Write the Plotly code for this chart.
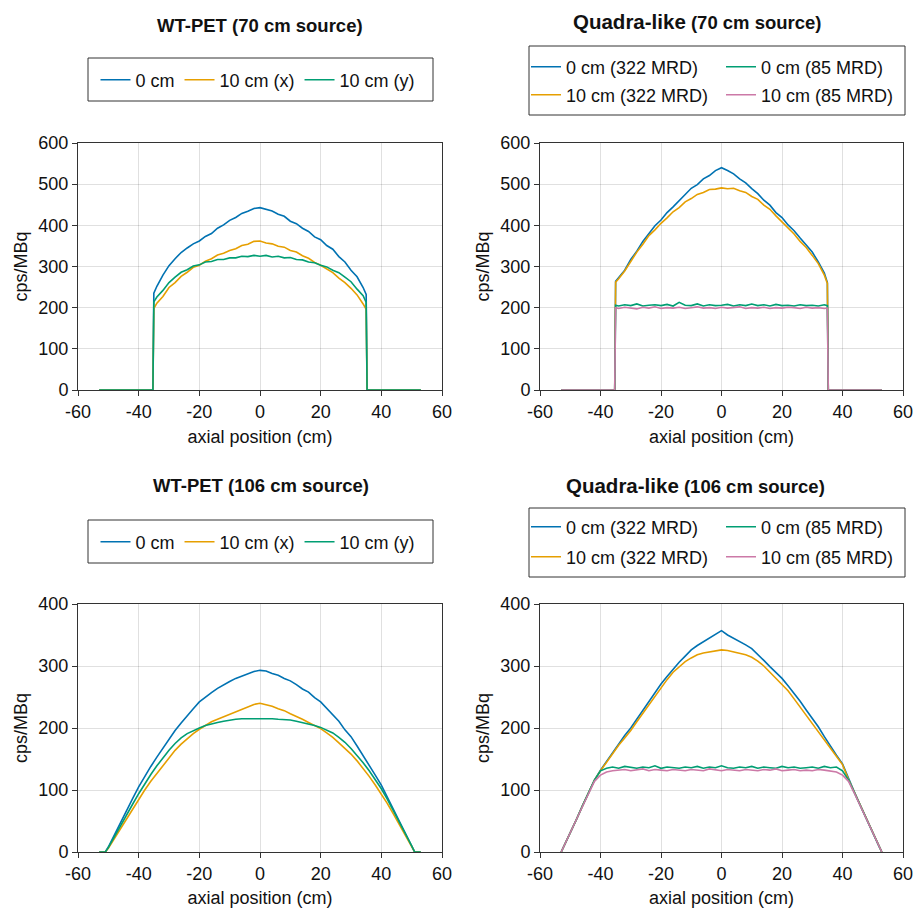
import plotly.graph_objects as go

# ---------------- data ----------------
X_TICKS = [-60, -40, -20, 0, 20, 40, 60]
X_TICKTEXT = ["-60", "-40", "-20", "0", "20", "40", "60"]
Y_TICKS_TOP = [0, 100, 200, 300, 400, 500, 600]
Y_TICKS_BOT = [0, 100, 200, 300, 400]

# axial positions (cm) for 70 cm source panels
x_70 = [-53, -35.3, -35, -34, -32, -30, -28, -26, -24, -22, -20, -18, -16, -14, -12, -10,
        -8, -6, -4, -2, 0, 2, 4, 6, 8, 10, 12, 14, 16, 18, 20, 22, 24, 26, 28, 30, 32, 34,
        35, 35.3, 53]

wt70_0cm = [0, 0, 235, 252, 279, 302, 319, 334, 345, 355, 362, 373, 380, 393, 401, 412, 419, 429,
            434, 441, 443, 439, 435, 427, 422, 410, 404, 393, 385, 372, 365, 351, 342, 324, 311,
            291, 275, 249, 232, 0, 0]
wt70_10x = [0, 0, 198, 211, 227, 249, 261, 276, 286, 298, 303, 313, 319, 328, 332, 339, 343, 351,
            354, 361, 362, 357, 355, 349, 347, 339, 335, 326, 320, 310, 303, 293, 285, 272, 261,
            247, 231, 209, 196, 0, 0]
wt70_10y = [0, 0, 214, 226, 242, 261, 274, 286, 292, 301, 304, 311, 312, 317, 317, 321, 321, 325,
            324, 327, 325, 327, 323, 325, 321, 322, 317, 316, 311, 309, 303, 299, 291, 285, 274,
            263, 245, 229, 213, 0, 0]

q70_0cm_322 = [0, 0, 264, 273, 291, 317, 337, 361, 379, 399, 413, 431, 445, 461, 475, 490, 499, 513,
               521, 533, 540, 533, 525, 513, 503, 489, 477, 461, 449, 431, 419, 401, 387, 369, 352,
               335, 311, 284, 261, 0, 0]
q70_10cm_322 = [0, 0, 262, 270, 289, 313, 335, 354, 375, 389, 405, 418, 433, 443, 457, 465, 475, 480,
                487, 488, 491, 489, 490, 484, 480, 470, 463, 449, 439, 423, 409, 393, 379, 361, 346,
                327, 307, 279, 259, 0, 0]
q70_0cm_85 = [0, 0, 206, 204, 207, 205, 209, 204, 206, 207, 205, 208, 204, 213, 206, 205, 209, 204,
              207, 205, 206, 208, 204, 207, 205, 209, 205, 207, 204, 208, 205, 206, 204, 207, 205,
              206, 204, 207, 205, 0, 0]
q70_10cm_85 = [0, 0, 200, 198, 201, 199, 197, 201, 199, 202, 198, 200, 199, 201, 198, 200, 202, 199,
               200, 198, 201, 199, 200, 202, 198, 200, 199, 201, 198, 200, 199, 201, 200, 198, 201,
               199, 200, 198, 199, 0, 0]

# axial positions (cm) for WT-PET 106 cm source panel
x_wt106 = [-53, -51, -50, -48, -46, -44, -42, -40, -38, -36, -34, -32, -30, -28, -26, -24, -22,
           -20, -18, -16, -14, -12, -10, -8, -6, -4, -2, 0, 2, 4, 6, 8, 10, 12, 14, 16, 18, 20,
           22, 24, 26, 28, 30, 32, 34, 36, 38, 40, 42, 44, 46, 48, 50, 51, 53]

wt106_0cm = [0, 0, 8, 28, 47, 66, 86, 105, 122, 138, 153, 168, 182, 196, 208, 220, 231, 242, 250,
             257, 264, 270, 275, 280, 284, 288, 291, 293, 292, 288, 285, 280, 276, 270, 263, 258,
             249, 242, 232, 222, 211, 197, 186, 171, 156, 140, 124, 108, 88, 68, 48, 29, 9, 0, 0]
wt106_10x = [0, 0, 6, 22, 38, 54, 70, 86, 100, 114, 127, 140, 153, 164, 174, 183, 191, 198, 204,
             210, 214, 218, 222, 227, 230, 234, 238, 240, 238, 235, 231, 228, 223, 219, 214, 209,
             204, 199, 192, 185, 176, 167, 158, 147, 135, 122, 108, 94, 78, 61, 44, 27, 9, 0, 0]
wt106_10y = [0, 0, 7, 25, 43, 60, 77, 94, 110, 125, 139, 152, 164, 175, 184, 191, 196, 200, 204,
             207, 209, 211, 213, 214, 215, 215, 216, 216, 215, 215, 214, 214, 213, 211, 209, 207,
             204, 201, 197, 192, 185, 177, 167, 156, 144, 131, 117, 102, 85, 67, 48, 29, 10, 0, 0]

# axial positions (cm) for Quadra-like 106 cm source panel
x_q106 = [-53, -52, -50, -48, -46, -44, -42, -40, -38, -36, -34, -32, -30, -28, -26, -24, -22,
          -20, -18, -16, -14, -12, -10, -8, -6, -4, -2, 0, 2, 4, 6, 8, 10, 12, 14, 16, 18, 20,
          22, 24, 26, 28, 30, 32, 34, 36, 38, 40, 42, 44, 46, 48, 50, 52, 53]

q106_0cm_322 = [0, 10, 31, 52, 74, 95, 116, 132, 146, 160, 176, 188, 200, 214, 229, 243, 258, 271,
                283, 295, 306, 316, 326, 333, 339, 345, 351, 357, 350, 345, 340, 334, 328, 319, 309,
                299, 290, 280, 268, 256, 243, 229, 216, 202, 186, 170, 156, 142, 118, 96, 74, 52,
                31, 10, 0]
q106_10cm_322 = [0, 10, 31, 52, 74, 95, 116, 131, 145, 158, 172, 184, 196, 210, 224, 238, 252, 266,
                 278, 290, 299, 307, 313, 318, 321, 323, 325, 326, 325, 323, 321, 318, 314, 308, 300,
                 290, 281, 271, 260, 247, 234, 221, 208, 195, 181, 167, 154, 141, 117, 96, 74, 52,
                 31, 10, 0]
q106_0cm_85 = [0, 10, 31, 52, 74, 95, 116, 131, 135, 137, 135, 138, 136, 135, 137, 136, 139, 135,
               137, 136, 135, 137, 136, 138, 135, 137, 136, 139, 136, 135, 137, 136, 138, 135, 137,
               136, 135, 138, 136, 137, 135, 136, 137, 135, 138, 136, 137, 131, 116, 95, 74, 52,
               31, 10, 0]
q106_10cm_85 = [0, 10, 31, 52, 73, 94, 114, 124, 129, 131, 132, 133, 131, 132, 134, 131, 133, 132,
                131, 133, 132, 131, 133, 132, 131, 134, 132, 131, 133, 132, 131, 133, 132, 131, 133,
                132, 134, 131, 132, 133, 131, 132, 131, 133, 132, 130, 129, 124, 114, 94, 73, 52,
                31, 10, 0]

LABELS_WT = ["0 cm", "10 cm (x)", "10 cm (y)"]
LABELS_Q = ["0 cm (322 MRD)", "10 cm (322 MRD)", "0 cm (85 MRD)", "10 cm (85 MRD)"]
TITLES = ["WT-PET (70 cm source)", "Quadra-like", "(70 cm source)",
          "WT-PET (106 cm source)", "Quadra-like", "(106 cm source)"]

# ---------------- style ----------------
BLUE, ORANGE, GREEN, PINK = "#0072B2", "#E69F00", "#009E73", "#CC79A7"
FONT = "Liberation Sans, Arial, Helvetica, sans-serif"
W, H = 917, 908
LW = 1.6


def px(v):
    return v / W


def py(v):
    return 1 - v / H


fig = go.Figure()


def add(x, y, name, color, xa, ya, legend):
    fig.add_trace(go.Scatter(x=x, y=y, name=name, mode="lines",
                             line=dict(color=color, width=LW),
                             xaxis=xa, yaxis=ya, legend=legend))


# panel 1: WT-PET 70
add(x_70, wt70_0cm, LABELS_WT[0], BLUE, "x", "y", "legend")
add(x_70, wt70_10x, LABELS_WT[1], ORANGE, "x", "y", "legend")
add(x_70, wt70_10y, LABELS_WT[2], GREEN, "x", "y", "legend")
# panel 2: Quadra 70
add(x_70, q70_0cm_322, LABELS_Q[0], BLUE, "x2", "y2", "legend2")
add(x_70, q70_10cm_322, LABELS_Q[1], ORANGE, "x2", "y2", "legend3")
add(x_70, q70_0cm_85, LABELS_Q[2], GREEN, "x2", "y2", "legend2")
add(x_70, q70_10cm_85, LABELS_Q[3], PINK, "x2", "y2", "legend3")
# panel 3: WT-PET 106
add(x_wt106, wt106_0cm, LABELS_WT[0], BLUE, "x3", "y3", "legend4")
add(x_wt106, wt106_10x, LABELS_WT[1], ORANGE, "x3", "y3", "legend4")
add(x_wt106, wt106_10y, LABELS_WT[2], GREEN, "x3", "y3", "legend4")
# panel 4: Quadra 106
add(x_q106, q106_0cm_322, LABELS_Q[0], BLUE, "x4", "y4", "legend5")
add(x_q106, q106_10cm_322, LABELS_Q[1], ORANGE, "x4", "y4", "legend6")
add(x_q106, q106_0cm_85, LABELS_Q[2], GREEN, "x4", "y4", "legend5")
add(x_q106, q106_10cm_85, LABELS_Q[3], PINK, "x4", "y4", "legend6")

AXCOL = "#333333"
GRID = "rgba(0,0,0,0.12)"


def xaxis(domain, anchor):
    return dict(domain=domain, anchor=anchor, range=[-60, 60], tickvals=X_TICKS,
                ticktext=X_TICKTEXT, showline=True, mirror=True, linecolor=AXCOL,
                linewidth=1, ticks="outside", ticklen=5, tickcolor=AXCOL, gridcolor=GRID,
                zeroline=False, automargin=False, tickfont=dict(size=18, color="#111"),
                title=dict(text="axial position (cm)", font=dict(size=18, color="#111"),
                           standoff=9))


def yaxis(domain, anchor, rng, ticks):
    return dict(domain=domain, anchor=anchor, range=rng, tickvals=ticks,
                showline=True, mirror=True, linecolor=AXCOL, linewidth=1,
                ticks="outside", ticklen=5, tickcolor=AXCOL, gridcolor=GRID,
                zeroline=False, automargin=False, tickfont=dict(size=18, color="#111"),
                title=dict(text="cps/MBq", font=dict(size=18, color="#111"), standoff=6))


XL = [px(78), px(442)]
XR = [px(540), px(903)]
YT = [py(390), py(143)]
YB = [py(852), py(604)]


def leg(x, y, xanchor, entrywidth=None):
    d = dict(orientation="h", x=x, y=y, xanchor=xanchor, yanchor="middle",
             bgcolor="rgba(0,0,0,0)", borderwidth=0,
             font=dict(size=18, family=FONT, color="#111"), itemwidth=30)
    if entrywidth:
        d["entrywidth"] = entrywidth
        d["entrywidthmode"] = "pixels"
    return d


fig.update_layout(
    width=W, height=H, margin=dict(l=0, r=0, t=0, b=0, autoexpand=False),
    paper_bgcolor="white", plot_bgcolor="white",
    font=dict(family=FONT, size=18, color="#111"),
    showlegend=True,
    xaxis=xaxis(XL, "y"), yaxis=yaxis(YT, "x", [0, 600], Y_TICKS_TOP),
    xaxis2=xaxis(XR, "y2"), yaxis2=yaxis(YT, "x2", [0, 600], Y_TICKS_TOP),
    xaxis3=xaxis(XL, "y3"), yaxis3=yaxis(YB, "x3", [0, 400], Y_TICKS_BOT),
    xaxis4=xaxis(XR, "y4"), yaxis4=yaxis(YB, "x4", [0, 400], Y_TICKS_BOT),
    legend=leg(px(258), py(80), "center"),
    legend2=leg(px(526), py(67), "left", 150),
    legend3=leg(px(526), py(95), "left", 150),
    legend4=leg(px(258), py(542), "center"),
    legend5=leg(px(526), py(527), "left", 150),
    legend6=leg(px(526), py(557), "left", 150),
)

# legend frames
for (x0, x1, y0, y1) in [(88, 433, 58, 101), (529, 905, 46, 115),
                         (88, 433, 520, 563), (529, 905, 508, 577)]:
    fig.add_shape(type="rect", xref="paper", yref="paper",
                  x0=px(x0), x1=px(x1), y0=py(y1), y1=py(y0),
                  line=dict(color=AXCOL, width=1), fillcolor="rgba(0,0,0,0)")

# panel titles
def title(text, x, y):
    fig.add_annotation(text=text, x=px(x), y=py(y), xref="paper", yref="paper",
                       xanchor="center", yanchor="middle", showarrow=False,
                       font=dict(size=18.5, color="#111"))


title("<b>" + TITLES[0] + "</b>", 260, 25)
title("<b><span style='font-size:20.5px'>" + TITLES[1] + "</span> " + TITLES[2] + "</b>", 697, 22)
title("<b>" + TITLES[3] + "</b>", 261, 485)
title("<b><span style='font-size:20.5px'>" + TITLES[4] + "</span> " + TITLES[5] + "</b>", 695, 485)

fig.write_html("out.html")
